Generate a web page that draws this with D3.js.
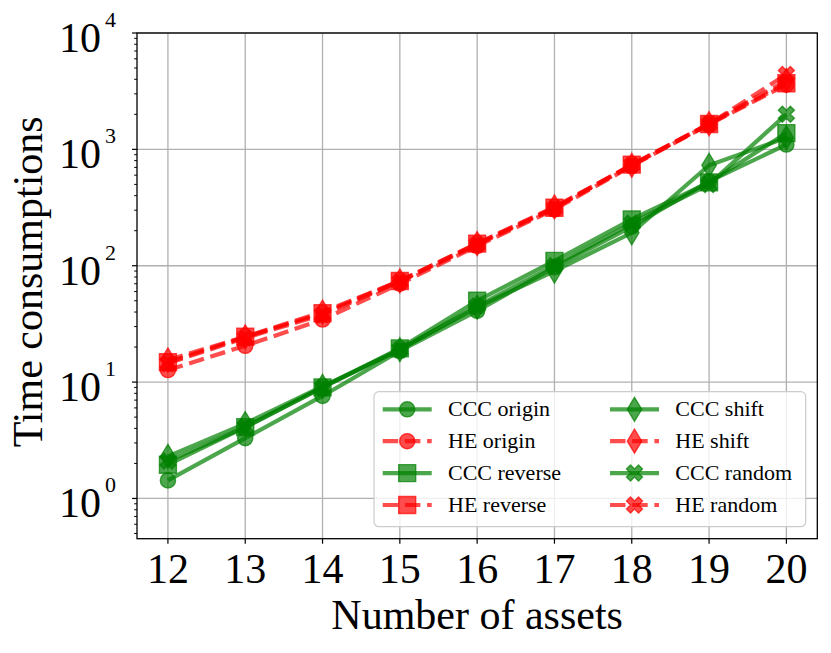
<!DOCTYPE html>
<html>
<head>
<meta charset="utf-8">
<script src="https://cdn.jsdelivr.net/npm/d3@7"></script>
<style>
  body { margin: 0; background: #fff; }
  text { font-family: "Liberation Serif", "Times New Roman", serif; fill: #000; }
</style>
</head>
<body>
<svg id="chart" width="831" height="653"></svg>
<script>
  'use strict';

  // Data (time on a log axis)
  var assets = [12, 13, 14, 15, 16, 17, 18, 19, 20];

  var cccOrigin  = [1.43, 3.3, 7.6, 18.5, 41, 97, 217, 530, 1100];
  var cccReverse = [1.95, 4.1, 9.0, 19.5, 50, 110, 250, 520, 1380];
  var cccShift   = [2.3, 4.4, 9.2, 19, 44, 90, 192, 730, 1260];
  var cccRandom  = [2.1, 4.1, 9.0, 19, 45, 100, 232, 500, 2000];

  var heOrigin  = [12.7, 20.5, 34.5, 70, 148, 305, 720, 1640, 3600];
  var heReverse = [14.8, 24.5, 39, 74, 155, 315, 740, 1650, 3700];
  var heShift   = [15.5, 24.5, 40, 74, 155, 320, 730, 1660, 3900];
  var heRandom  = [14.5, 24, 38, 73, 152, 312, 735, 1650, 4400];

  var yTickPowers = [0, 1, 2, 3, 4];

  var seriesNames = ['CCC origin', 'HE origin', 'CCC reverse', 'HE reverse',
                     'CCC shift', 'HE shift', 'CCC random', 'HE random'];

  var green = '#008000', red = '#ff0000';

  var series = [
    { name: seriesNames[0], values: cccOrigin,  color: green, dashed: false, marker: 'circle' },
    { name: seriesNames[1], values: heOrigin,   color: red,   dashed: true,  marker: 'circle' },
    { name: seriesNames[2], values: cccReverse, color: green, dashed: false, marker: 'square' },
    { name: seriesNames[3], values: heReverse,  color: red,   dashed: true,  marker: 'square' },
    { name: seriesNames[4], values: cccShift,   color: green, dashed: false, marker: 'diamond' },
    { name: seriesNames[5], values: heShift,    color: red,   dashed: true,  marker: 'diamond' },
    { name: seriesNames[6], values: cccRandom,  color: green, dashed: false, marker: 'x' },
    { name: seriesNames[7], values: heRandom,   color: red,   dashed: true,  marker: 'x' }
  ];

  var box = { left: 137, right: 817.3, top: 33, bottom: 538.7 };
  var lineW = 4.2, dash = '15.5,6.7', alpha = 0.7, ms = 17;

  var svg = d3.select('#chart');
  svg.append('rect').attr('width', 831).attr('height', 653).attr('fill', '#fff');

  var x = d3.scaleLinear().domain([11.6, 20.4]).range([box.left, box.right]);
  var y = d3.scaleLog().domain([0.451, 10000]).range([box.bottom, box.top]);

  // marker shapes, centred on 0,0
  function markerPath(type) {
    var r, h, w;
    if (type === 'circle') {
      r = 7.6;
      return 'M' + r + ',0A' + r + ',' + r + ' 0 1,1 ' + (-r) + ',0A' + r + ',' + r + ' 0 1,1 ' + r + ',0Z';
    }
    if (type === 'square') {
      h = ms / 2;
      return 'M' + (-h) + ',' + (-h) + 'H' + h + 'V' + h + 'H' + (-h) + 'Z';
    }
    if (type === 'diamond') {
      h = ms * 0.707;
      w = h * 0.6;
      return 'M0,' + (-h) + 'L' + w + ',0L0,' + h + 'L' + (-w) + ',0Z';
    }
    // filled X: plus shape turned 45 degrees
    var pts = [[-1, -3], [1, -3], [1, -1], [3, -1], [3, 1], [1, 1], [1, 3], [-1, 3], [-1, 1], [-3, 1], [-3, -1], [-1, -1]];
    var c = Math.SQRT1_2;
    return 'M' + pts.map(function(p) {
      var px = p[0] / 6 * ms, py = p[1] / 6 * ms;
      return [(px - py) * c, (px + py) * c].join(',');
    }).join('L') + 'Z';
  }

  // grid
  var grid = svg.append('g').attr('stroke', '#b0b0b0').attr('stroke-width', 1.3);
  grid.selectAll('.gx').data(assets).enter().append('line')
    .attr('x1', function(d) { return x(d); }).attr('x2', function(d) { return x(d); })
    .attr('y1', box.top).attr('y2', box.bottom);
  grid.selectAll('.gy').data(yTickPowers).enter().append('line')
    .attr('x1', box.left).attr('x2', box.right)
    .attr('y1', function(p) { return y(Math.pow(10, p)); })
    .attr('y2', function(p) { return y(Math.pow(10, p)); });

  // lines and markers
  var line = d3.line()
    .x(function(d, i) { return x(assets[i]); })
    .y(function(d) { return y(d); });

  series.forEach(function(s) {
    var g = svg.append('g');
    g.append('path')
      .attr('d', line(s.values))
      .attr('fill', 'none')
      .attr('stroke', s.color)
      .attr('stroke-opacity', alpha)
      .attr('stroke-width', lineW)
      .attr('stroke-dasharray', s.dashed ? dash : null);
    g.selectAll('path.m').data(s.values).enter().append('path')
      .attr('class', 'm')
      .attr('d', markerPath(s.marker))
      .attr('transform', function(d, i) { return 'translate(' + x(assets[i]) + ',' + y(d) + ')'; })
      .attr('fill', s.color).attr('fill-opacity', alpha)
      .attr('stroke', s.color).attr('stroke-opacity', alpha)
      .attr('stroke-width', 1.4);
  });

  // frame
  svg.append('rect')
    .attr('x', box.left).attr('y', box.top)
    .attr('width', box.right - box.left).attr('height', box.bottom - box.top)
    .attr('fill', 'none').attr('stroke', '#000').attr('stroke-width', 1.3);

  // x axis ticks + labels
  var xAxis = svg.append('g');
  xAxis.selectAll('line').data(assets).enter().append('line')
    .attr('x1', function(d) { return x(d); }).attr('x2', function(d) { return x(d); })
    .attr('y1', box.bottom).attr('y2', box.bottom + 5)
    .attr('stroke', '#000').attr('stroke-width', 1.2);
  xAxis.selectAll('text').data(assets).enter().append('text')
    .attr('x', function(d) { return x(d); })
    .attr('y', 583)
    .attr('text-anchor', 'middle')
    .attr('font-size', 42)
    .text(function(d) { return d; });

  // y axis ticks (major + minor) and labels
  var minor = [];
  for (var p = -1; p < 4; p++) {
    for (var k = 2; k < 10; k++) {
      var v = k * Math.pow(10, p);
      if (v >= y.domain()[0] && v <= y.domain()[1]) minor.push(v);
    }
  }
  var yAxis = svg.append('g').attr('stroke', '#000');
  yAxis.selectAll('.minor').data(minor).enter().append('line')
    .attr('x1', box.left - 2.8).attr('x2', box.left)
    .attr('y1', function(d) { return y(d); }).attr('y2', function(d) { return y(d); })
    .attr('stroke-width', 1);
  yAxis.selectAll('.major').data(yTickPowers).enter().append('line')
    .attr('x1', box.left - 5).attr('x2', box.left)
    .attr('y1', function(p) { return y(Math.pow(10, p)); })
    .attr('y2', function(p) { return y(Math.pow(10, p)); })
    .attr('stroke-width', 1.2);

  var yLabels = svg.append('g');
  yTickPowers.forEach(function(p) {
    var ty = y(Math.pow(10, p));
    yLabels.append('text')
      .attr('x', 101).attr('y', ty + 19)
      .attr('text-anchor', 'end').attr('font-size', 42)
      .text('10');
    yLabels.append('text')
      .attr('x', 105).attr('y', ty - 6)
      .attr('font-size', 22)
      .text(p);
  });

  // axis titles
  svg.append('text')
    .attr('x', (box.left + box.right) / 2).attr('y', 629)
    .attr('text-anchor', 'middle').attr('font-size', 42)
    .text('Number of assets');
  svg.append('text')
    .attr('transform', 'translate(42,' + ((box.top + box.bottom) / 2 - 4) + ') rotate(-90)')
    .attr('text-anchor', 'middle').attr('font-size', 42)
    .text('Time consumptions');

  // legend, two columns of four
  var legend = svg.append('g');
  legend.append('rect')
    .attr('x', 374).attr('y', 391.7).attr('width', 431.7).attr('height', 135)
    .attr('rx', 5).attr('ry', 5)
    .attr('fill', '#fff').attr('fill-opacity', 0.8)
    .attr('stroke', '#cccccc').attr('stroke-width', 1.2);

  var rowY = 409.3, rowStep = 31.9;
  var cols = [382.7, 610];
  series.forEach(function(s, i) {
    var cx = cols[Math.floor(i / 4)], cy = rowY + (i % 4) * rowStep;
    var item = legend.append('g');
    item.append('line')
      .attr('x1', cx).attr('x2', cx + 49)
      .attr('y1', cy).attr('y2', cy)
      .attr('stroke', s.color).attr('stroke-opacity', alpha)
      .attr('stroke-width', lineW)
      .attr('stroke-dasharray', s.dashed ? dash : null);
    item.append('path')
      .attr('d', markerPath(s.marker))
      .attr('transform', 'translate(' + (cx + 24.5) + ',' + cy + ')')
      .attr('fill', s.color).attr('fill-opacity', alpha)
      .attr('stroke', s.color).attr('stroke-opacity', alpha)
      .attr('stroke-width', 1.4);
    item.append('text')
      .attr('x', cx + 65.3).attr('y', cy + 6.8)
      .attr('font-size', 22)
      .text(s.name);
  });
</script>
</body>
</html>
